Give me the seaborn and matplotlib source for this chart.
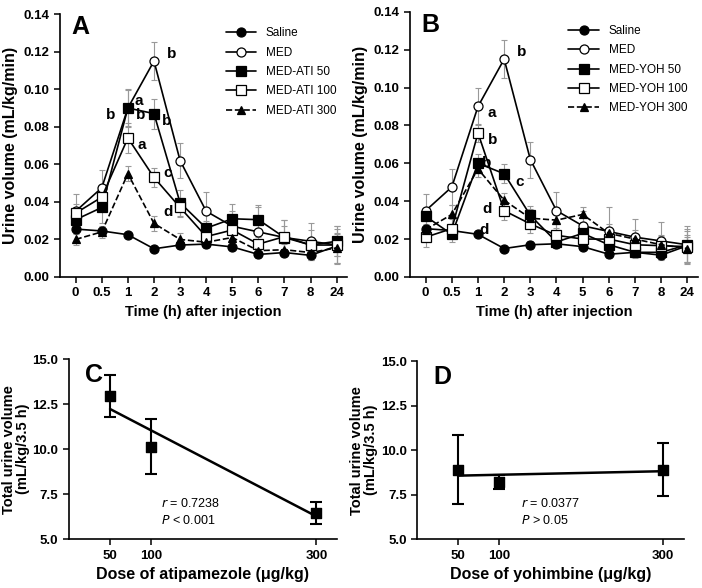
import numpy as np
import pandas as pd
import seaborn as sns
import matplotlib
matplotlib.use("Agg")
from matplotlib import pyplot as plt

# ---- data ----
times = ["0", "0.5", "1", "2", "3", "4", "5", "6", "7", "8", "24"]

saline = [0.0255, 0.0245, 0.0225, 0.015, 0.017, 0.0175, 0.016, 0.012, 0.013, 0.0115, 0.0165]
saline_err = [0.002, 0.002, 0.001, 0.001, 0.002, 0.002, 0.001, 0.002, 0.002, 0.002, 0.009]
med = [0.035, 0.0475, 0.09, 0.115, 0.062, 0.035, 0.027, 0.024, 0.021, 0.019, 0.017]
med_err = [0.009, 0.0095, 0.01, 0.01, 0.0095, 0.01, 0.008, 0.013, 0.0095, 0.01, 0.01]

ati50 = [0.0305, 0.037, 0.09, 0.087, 0.0395, 0.026, 0.031, 0.0305, 0.021, 0.017, 0.019]
ati50_err = [0.003, 0.008, 0.0095, 0.008, 0.007, 0.004, 0.008, 0.008, 0.006, 0.004, 0.008]
ati100 = [0.034, 0.0425, 0.074, 0.053, 0.037, 0.0215, 0.025, 0.0175, 0.0215, 0.017, 0.017]
ati100_err = [0.005, 0.006, 0.008, 0.005, 0.005, 0.003, 0.005, 0.004, 0.009, 0.008, 0.006]
ati300 = [0.020, 0.024, 0.055, 0.0285, 0.020, 0.0185, 0.021, 0.014, 0.0145, 0.013, 0.0155]
ati300_err = [0.003, 0.003, 0.004, 0.004, 0.0035, 0.002, 0.003, 0.002, 0.003, 0.002, 0.008]

yoh50 = [0.032, 0.0225, 0.060, 0.0545, 0.0325, 0.0185, 0.023, 0.017, 0.013, 0.013, 0.017]
yoh50_err = [0.004, 0.004, 0.005, 0.005, 0.005, 0.003, 0.004, 0.004, 0.003, 0.003, 0.004]
yoh100 = [0.021, 0.0255, 0.076, 0.035, 0.028, 0.022, 0.020, 0.020, 0.017, 0.0165, 0.016]
yoh100_err = [0.005, 0.005, 0.005, 0.005, 0.005, 0.004, 0.004, 0.004, 0.005, 0.005, 0.008]
yoh300 = [0.025, 0.033, 0.057, 0.0405, 0.031, 0.030, 0.033, 0.023, 0.020, 0.017, 0.015]
yoh300_err = [0.006, 0.005, 0.004, 0.004, 0.005, 0.006, 0.004, 0.005, 0.005, 0.005, 0.007]

dose = [50, 100, 300]
ati_total = [12.95, 10.15, 6.45]
ati_total_err = [1.18, 1.55, 0.62]
yoh_total = [8.9, 8.2, 8.9]
yoh_total_err = [1.95, 0.38, 1.5]

# significance letters: (series, time index, letter, offset)
letters_a = [("MED", 3, "b", (9, 5)), ("MED-ATI 50", 2, "a", (5, 5)),
             ("MED-ATI 50", 2, "b", (-16, -5)), ("MED-ATI 50", 2, "b", (6, -5)),
             ("MED-ATI 50", 3, "b", (6, -5)), ("MED-ATI 100", 2, "a", (7, -5)),
             ("MED-ATI 100", 3, "c", (7, 3)), ("MED-ATI 300", 3, "d", (7, 8))]
letters_b = [("MED", 3, "b", (9, 5)), ("MED", 2, "a", (7, -5)),
             ("MED-YOH 100", 2, "b", (7, -5)), ("MED-YOH 50", 2, "b", (3, 0)),
             ("MED-YOH 50", 3, "c", (8, -6)), ("MED-YOH 300", 3, "d", (-16, -6)),
             ("MED-YOH 100", 3, "d", (-18, -14))]

sns.set_style("ticks")
plt.rcParams["font.family"] = ["Liberation Sans", "DejaVu Sans"]
plt.rcParams.update({
    "axes.linewidth": 1.2, "axes.edgecolor": "black", "axes.labelcolor": "black",
    "text.color": "black", "xtick.color": "black", "ytick.color": "black",
})

styles = {
    "Saline": dict(marker="o", mfc="black", ls="-"),
    "MED": dict(marker="o", mfc="white", ls="-"),
    "50": dict(marker="s", mfc="black", ls="-"),
    "100": dict(marker="s", mfc="white", ls="-"),
    "300": dict(marker="^", mfc="black", ls="--"),
}


def time_panel(ax, series, letters, tag):
    pos = np.arange(len(times))
    for name, vals, err in series:
        key = name.split()[-1] if name.startswith("MED-") else name
        st = styles[key]
        ax.errorbar(pos, vals, yerr=err, fmt="none", ecolor="#999999",
                    elinewidth=0.8, capsize=2, capthick=0.8, zorder=1)
        df = pd.DataFrame({"t": pos, "v": vals})
        sns.lineplot(data=df, x="t", y="v", ax=ax, color="black", lw=1.2,
                     linestyle=st["ls"], marker=st["marker"],
                     markerfacecolor=st["mfc"], markeredgecolor="black",
                     markersize=6.5 if st["marker"] != "^" else 6,
                     markeredgewidth=0.9, label=name, zorder=3)
    vals_by = {n: v for n, v, e in series}
    for name, i, txt, off in letters:
        ax.annotate(txt, (i, vals_by[name][i]), xytext=off, textcoords="offset points",
                    fontsize=11, fontweight="bold", ha="left", va="center")
    ax.set_xlim(-0.6, 10.4)
    ax.set_ylim(0, 0.14)
    ax.set_xticks(pos)
    ax.set_xticklabels(times)
    ax.set_yticks(np.arange(0, 0.141, 0.02))
    ax.set_yticklabels([f"{v:.2f}" for v in np.arange(0, 0.141, 0.02)])
    ax.set_xlabel("Time (h) after injection", fontsize=10.5, fontweight="bold")
    ax.set_ylabel("Urine volume (mL/kg/min)", fontsize=11.5, fontweight="bold")
    ax.text(0.04, 0.995, tag, transform=ax.transAxes, fontsize=18, fontweight="bold",
            va="top")
    ax.legend(loc="upper right", frameon=False, fontsize=8.5, handlelength=2.6,
              labelspacing=0.62, bbox_to_anchor=(1.0, 0.99))
    sns.despine(ax=ax)
    for lab in ax.get_xticklabels() + ax.get_yticklabels():
        lab.set_fontweight("bold")
    ax.tick_params(labelsize=9.5, width=1.1, length=4)


def dose_panel(ax, y, yerr, drug, r_txt, p_txt, tx, tag):
    ax.errorbar(dose, y, yerr=yerr, fmt="none", ecolor="black", elinewidth=1.5,
                capsize=4, capthick=1.5, zorder=2)
    df = pd.DataFrame({"dose": dose, "vol": y})
    sns.regplot(data=df, x="dose", y="vol", ax=ax, ci=None, marker="s",
                scatter_kws=dict(color="black", s=45, alpha=1, zorder=3),
                line_kws=dict(color="black", lw=1.8))
    ax.set_xlim(0, 325)
    ax.set_ylim(5, 15)
    ax.set_xticks(dose)
    ax.set_yticks([5, 7.5, 10, 12.5, 15])
    ax.set_yticklabels(["5.0", "7.5", "10.0", "12.5", "15.0"])
    ax.set_xlabel(f"Dose of {drug} (\u03bcg/kg)", fontsize=11.5, fontweight="bold")
    ax.set_ylabel("Total urine volume\n(mL/kg/3.5 h)", fontsize=10.5, fontweight="bold",
                  labelpad=2, linespacing=1.0)
    ax.text(0.06, 0.98, tag, transform=ax.transAxes, fontsize=18, fontweight="bold",
            va="top")
    ax.text(tx, 0.20, r_txt, transform=ax.transAxes, fontsize=9, va="center")
    ax.text(tx, 0.105, p_txt, transform=ax.transAxes, fontsize=9, va="center")
    sns.despine(ax=ax)
    for lab in ax.get_xticklabels() + ax.get_yticklabels():
        lab.set_fontweight("bold")
    ax.tick_params(labelsize=9.5, width=1.1, length=4)


fig = plt.figure(figsize=(7.02, 5.88), dpi=100)
axA = fig.add_axes([0.0855, 0.529, 0.409, 0.447])
axB = fig.add_axes([0.584, 0.529, 0.410, 0.451])
axC = fig.add_axes([0.098, 0.083, 0.382, 0.306])
axD = fig.add_axes([0.594, 0.083, 0.380, 0.303])

time_panel(axA, [("Saline", saline, saline_err), ("MED", med, med_err),
                 ("MED-ATI 50", ati50, ati50_err), ("MED-ATI 100", ati100, ati100_err),
                 ("MED-ATI 300", ati300, ati300_err)], letters_a, "A")
time_panel(axB, [("Saline", saline, saline_err), ("MED", med, med_err),
                 ("MED-YOH 50", yoh50, yoh50_err), ("MED-YOH 100", yoh100, yoh100_err),
                 ("MED-YOH 300", yoh300, yoh300_err)], letters_b, "B")
dose_panel(axC, ati_total, ati_total_err, "atipamezole",
           "$\\it{r}$ = 0.7238", "$\\it{P}$ < 0.001", 0.345, "C")
dose_panel(axD, yoh_total, yoh_total_err, "yohimbine",
           "$\\it{r}$ = 0.0377", "$\\it{P}$ > 0.05", 0.39, "D")

fig.savefig("out.png", dpi=100)
